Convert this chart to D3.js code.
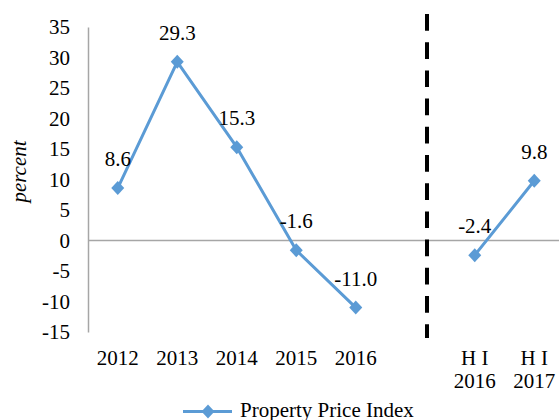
<!DOCTYPE html>
<html>
<head>
<meta charset="utf-8">
<script src="https://cdn.jsdelivr.net/npm/d3@7"></script>
<style>
  html, body { margin: 0; padding: 0; background: #fff; }
  svg { display: block; }
  svg text { font-family: "Liberation Serif", "Times New Roman", serif; }
</style>
</head>
<body>
<svg id="chart" width="559" height="420"></svg>
<script>
// ---- data ----
const categories = ["2012", "2013", "2014", "2015", "2016", "gap", "H1-2016", "H1-2017"];
const categoryLabels = [["2012"], ["2013"], ["2014"], ["2015"], ["2016"], [], ["H I", "2016"], ["H I", "2017"]];
const values = [8.6, 29.3, 15.3, -1.6, -11.0, null, -2.4, 9.8];
const valueLabels = ["8.6", "29.3", "15.3", "-1.6", "-11.0", "", "-2.4", "9.8"];
const yTicks = [-15, -10, -5, 0, 5, 10, 15, 20, 25, 30, 35];
const yTickLabels = ["-15", "-10", "-5", "0", "5", "10", "15", "20", "25", "30", "35"];
const seriesName = "Property Price Index";
const yTitle = "percent";

// ---- layout ----
const svg = d3.select("#chart");
const blue = "#5b9bd5";
const axisGray = "#a6a6a6";
const fontSize = 21;
const serif = "'Liberation Serif', 'Times New Roman', serif";

const x = d3.scaleBand().domain(categories).range([88, 564]).padding(0);
const y = d3.scaleLinear().domain([-15, 35]).range([332, 27]);
const cx = c => x(c) + x.bandwidth() / 2;

// y axis
const yAxis = svg.append("g").attr("transform", "translate(88,0)")
  .call(d3.axisLeft(y).tickValues(yTicks).tickSize(0).tickSizeOuter(0).tickPadding(18)
    .tickFormat(d => yTickLabels[yTicks.indexOf(d)]));
yAxis.attr("font-family", serif).attr("font-size", fontSize);
yAxis.select(".domain").attr("stroke", axisGray).attr("stroke-width", 1.5);
yAxis.selectAll("text").attr("fill", "#000");

// zero line
svg.append("line")
  .attr("x1", 88).attr("x2", 559)
  .attr("y1", y(0)).attr("y2", y(0))
  .attr("stroke", axisGray).attr("stroke-width", 1.5);

// x axis labels
const xAxis = svg.append("g").attr("transform", "translate(0,332)")
  .call(d3.axisBottom(x).tickSize(0).tickSizeOuter(0));
xAxis.attr("font-family", serif).attr("font-size", fontSize);
xAxis.select(".domain").remove();
xAxis.selectAll(".tick text").each(function(d) {
  const el = d3.select(this);
  const lines = categoryLabels[categories.indexOf(d)];
  el.text(null).attr("y", 33).attr("dy", null).attr("fill", "#000");
  lines.forEach((l, j) => {
    el.append("tspan").attr("x", 0).attr("dy", j === 0 ? 0 : 23).text(l);
  });
});

// dashed separator
svg.append("line")
  .attr("x1", 427).attr("x2", 427)
  .attr("y1", 14).attr("y2", 338)
  .attr("stroke", "#000").attr("stroke-width", 4)
  .attr("stroke-dasharray", "16.7 11.5");

// y title
svg.append("text")
  .attr("transform", `translate(26,${(27 + 332) / 2 - 8}) rotate(-90)`)
  .attr("text-anchor", "middle")
  .attr("font-family", serif)
  .attr("font-size", fontSize).attr("font-style", "italic")
  .text(yTitle);

// line
const pts = categories.map((c, i) => ({ c, v: values[i], lbl: valueLabels[i] }));
const line = d3.line().defined(d => d.v !== null).x(d => cx(d.c)).y(d => y(d.v));
svg.append("path").datum(pts)
  .attr("d", line).attr("fill", "none")
  .attr("stroke", blue).attr("stroke-width", 3).attr("stroke-linejoin", "round");

const diamond = "M0,-7L6.5,0L0,7L-6.5,0Z";
svg.selectAll(".mk").data(pts.filter(d => d.v !== null)).enter()
  .append("path").attr("class", "mk")
  .attr("d", diamond).attr("fill", blue)
  .attr("transform", d => `translate(${cx(d.c)},${y(d.v)})`);

svg.selectAll(".lbl").data(pts.filter(d => d.v !== null)).enter()
  .append("text").attr("class", "lbl")
  .attr("x", d => cx(d.c)).attr("y", d => y(d.v) - 22)
  .attr("text-anchor", "middle")
  .attr("font-family", serif).attr("font-size", fontSize)
  .text(d => d.lbl);

// legend
const lg = svg.append("g");
lg.append("line").attr("x1", 183).attr("x2", 232).attr("y1", 411.5).attr("y2", 411.5)
  .attr("stroke", blue).attr("stroke-width", 3);
lg.append("path").attr("d", diamond).attr("fill", blue).attr("transform", "translate(208,411.5)");
lg.append("text").attr("x", 240).attr("y", 417)
  .attr("font-family", serif).attr("font-size", fontSize).text(seriesName);
</script>
</body>
</html>
